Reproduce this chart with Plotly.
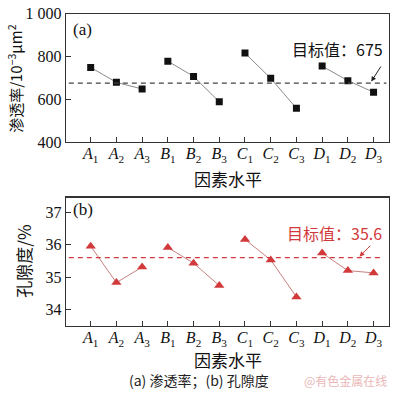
import plotly.graph_objects as go

levels = ["A", "A", "A", "B", "B", "B", "C", "C", "C", "D", "D", "D"]
subs = ["1", "2", "3"] * 4
tick_labels = [f"<i>{l}</i><sub>{s}</sub>" for l, s in zip(levels, subs)]
factors = ["A", "B", "C", "D"]

permeability = [749, 679, 648, 778, 707, 588, 816, 698, 558, 755, 687, 633]
porosity = [35.95, 34.83, 35.31, 35.91, 35.43, 34.74, 36.16, 35.53, 34.39, 35.74, 35.20, 35.13]
target_perm = 675
target_poro = 35.6

perm_ticks = [400, 600, 800, 1000]
perm_ticktext = ["400", "600", "800", "1 000"]
poro_ticks = [34, 35, 36, 37]

serif = "Liberation Serif"
cjk = "Noto Sans CJK SC"
red = "#d2393b"

fig = go.Figure()
x_idx = list(range(len(tick_labels)))

for i, f in enumerate(factors):
    xs = x_idx[i * 3:(i + 1) * 3]
    fig.add_trace(go.Scatter(
        x=xs, y=permeability[i * 3:(i + 1) * 3], mode="lines+markers",
        line=dict(color="#8a8a8a", width=1),
        marker=dict(symbol="square", size=7, color="#111111"),
        xaxis="x", yaxis="y", showlegend=False, hoverinfo="skip"))
    fig.add_trace(go.Scatter(
        x=xs, y=porosity[i * 3:(i + 1) * 3], mode="lines+markers",
        line=dict(color="#c98080", width=1),
        marker=dict(symbol="triangle-up", size=9, color=red),
        xaxis="x2", yaxis="y2", showlegend=False, hoverinfo="skip"))

# target lines
fig.add_trace(go.Scatter(x=[-0.85, 11.5], y=[target_perm, target_perm], mode="lines",
                         line=dict(color="#444444", width=1.2, dash="5px,4px"),
                         xaxis="x", yaxis="y", showlegend=False, hoverinfo="skip"))
fig.add_trace(go.Scatter(x=[-0.85, 11.4], y=[target_poro, target_poro], mode="lines",
                         line=dict(color=red, width=1.2, dash="5px,4px"),
                         xaxis="x2", yaxis="y2", showlegend=False, hoverinfo="skip"))

xdom = [66 / 400, 389 / 400]
H = 398
axis_common = dict(showline=True, mirror=True, linecolor="#333333", linewidth=1.2,
                   ticks="inside", ticklen=5, tickcolor="#333333", showgrid=False,
                   zeroline=False, ticklabeloverflow="allow",
                   tickfont=dict(family=serif, size=16, color="#111111"))

fig.update_layout(
    width=400, height=398, margin=dict(l=0, r=0, t=0, b=0),
    paper_bgcolor="white", plot_bgcolor="white",
    xaxis=dict(domain=xdom, range=[-0.96, 11.6], tickvals=x_idx, ticktext=tick_labels,
               anchor="y", ticklabelstandoff=-3, **axis_common),
    yaxis=dict(domain=[1 - 140 / H, 1 - 6 / H], range=[400, 1000], tickvals=perm_ticks,
               ticktext=perm_ticktext, anchor="x", **axis_common),
    xaxis2=dict(domain=xdom, range=[-0.96, 11.6], tickvals=x_idx, ticktext=tick_labels,
                anchor="y2", ticklabelstandoff=-3, **axis_common),
    yaxis2=dict(domain=[1 - 332 / H, 1 - 198 / H], range=[33.5, 37.45], tickvals=poro_ticks,
                anchor="x2", **axis_common),
)

ann = [
    dict(text="(a)", x=71 / 400, y=1 - 22 / H, xanchor="left", yanchor="middle",
         font=dict(family=serif, size=17, color="#111")),
    dict(text="(b)", x=71 / 400, y=1 - 211 / H, xanchor="left", yanchor="middle",
         font=dict(family=serif, size=17, color="#111")),
    dict(text="因素水平", x=228 / 400, y=1 - 178 / H, xanchor="center", yanchor="middle",
         font=dict(family=cjk, size=17, color="#111")),
    dict(text="因素水平", x=228 / 400, y=1 - 367 / H, xanchor="center", yanchor="middle",
         font=dict(family=cjk, size=17, color="#111")),
    dict(text="渗透率/10<sup>−3</sup>μm<sup>2</sup>", x=15 / 400, y=1 - 74 / H, textangle=-90,
         xanchor="center", yanchor="middle", font=dict(family=cjk, size=15, color="#111")),
    dict(text="孔隙度/%", x=24 / 400, y=1 - 265 / H, textangle=-90,
         xanchor="center", yanchor="middle", font=dict(family=cjk, size=17, color="#111")),
    dict(text="(a) 渗透率；(b) 孔隙度", x=199 / 400, y=1 - 389 / H, xanchor="center", yanchor="middle",
         font=dict(family=cjk, size=14, color="#222")),
    dict(text="@有色金属在线", x=302 / 400, y=1 - 389 / H, xanchor="left", yanchor="middle",
         font=dict(family=cjk, size=12, color="#eab7b7")),
    dict(text="目标值：675", x=385 / 400, y=1 - 43 / H, xanchor="right", yanchor="middle",
         font=dict(family=cjk, size=16, color="#111")),
    dict(text="目标值：35.6", x=384 / 400, y=1 - 235 / H, xanchor="right", yanchor="middle",
         font=dict(family=cjk, size=16, color=red)),
    # arrows
    dict(text="", x=10.91, y=683, xref="x", yref="y", ax=11.32, ay=760, axref="x", ayref="y",
         showarrow=True, arrowhead=2, arrowsize=1, arrowwidth=1, arrowcolor="#222"),
    dict(text="", x=10.45, y=35.63, xref="x2", yref="y2", ax=10.93, ay=36.01, axref="x2", ayref="y2",
         showarrow=True, arrowhead=2, arrowsize=1, arrowwidth=1, arrowcolor=red),
]
for a in ann:
    if "showarrow" not in a:
        a["showarrow"] = False
        if "xref" not in a:
            a["xref"] = "paper"
            a["yref"] = "paper"
    fig.add_annotation(**a)

fig.write_html("out.html", config={"displayModeBar": False, "staticPlot": True},
               post_script="document.body.style.margin='0';document.body.style.overflow='hidden';")
